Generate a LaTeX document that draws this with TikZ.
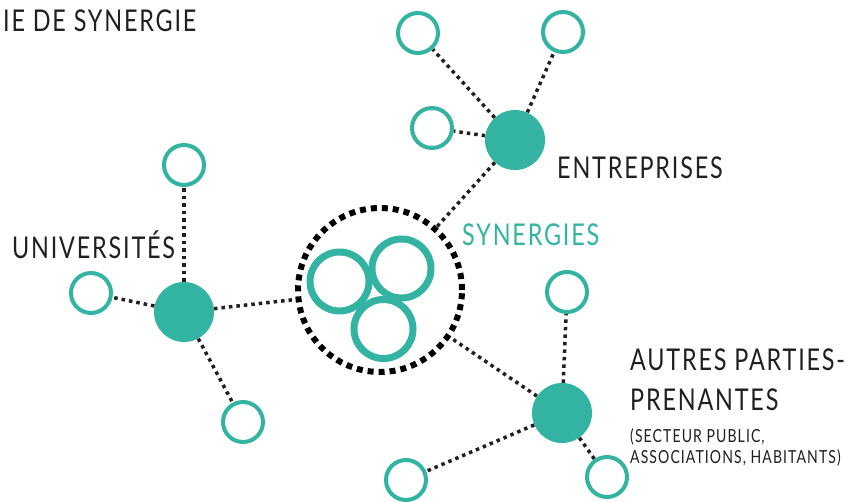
\documentclass[tikz,border=0pt]{standalone}
\usepackage{fontspec}
\setmainfont{Lato}
\newfontfamily\condfont{Lato}[FakeStretch=0.78,LetterSpace=6]
\usetikzlibrary{backgrounds}
\definecolor{teal1}{RGB}{51,179,162}
\definecolor{ink}{RGB}{35,31,32}
\begin{document}
\begin{tikzpicture}[x=1pt,y=-1pt,
 sat/.style={circle,draw=teal1,line width=4pt,fill=white,minimum size=40pt,inner sep=0pt},
 hub/.style={circle,fill=teal1,minimum size=60pt,inner sep=0pt},
 ring/.style={circle,draw=teal1,line width=7pt,minimum size=59pt,inner sep=0pt},
 syncircle/.style={circle,draw=black,line width=6pt,dash pattern=on 6pt off 5pt,minimum size=164pt,inner sep=0pt},
 dotline/.style={draw=ink,line width=3.5pt,dash pattern=on 3.5pt off 4pt},
 lbl/.style={anchor=base west,inner sep=0pt,text=ink,font=\condfont\fontsize{30}{36}\selectfont},
 small/.style={lbl,font=\condfont\fontsize{18}{22}\selectfont}]
\useasboundingbox (0,0) rectangle (848,501);
% central
\node[syncircle] (syn) at (380,290) {};
\node[ring] (r1) at (339.5,281.5) {};
\node[ring] (r2) at (401.5,268.5) {};
\node[ring] (r3) at (383.5,329) {};
% entreprises
\node[hub] (hubE) at (515,140) {};
\node[sat] (e1) at (418,33) {};
\node[sat] (e2) at (563,32) {};
\node[sat] (e3) at (432,128) {};
% universites
\node[hub] (hubU) at (184,312) {};
\node[sat] (u1) at (184,165) {};
\node[sat] (u2) at (91,293) {};
\node[sat] (u3) at (243,422) {};
% autres
\node[hub] (hubA) at (562,413) {};
\node[sat] (a1) at (567,292) {};
\node[sat] (a2) at (406,480) {};
\node[sat] (a3) at (607,477) {};
\begin{pgfonlayer}{background}
\draw[dotline] (hubE) -- (e1);
\draw[dotline] (hubE) -- (e2);
\draw[dotline] (hubE) -- (e3);
\draw[dotline] (hubE) -- (syn);
\draw[dotline] (hubU) -- (u1);
\draw[dotline] (hubU) -- (u2);
\draw[dotline] (hubU) -- (u3);
\draw[dotline] (hubU) -- (syn);
\draw[dotline] (hubA) -- (a1);
\draw[dotline] (hubA) -- (a2);
\draw[dotline] (hubA) -- (a3);
\draw[dotline] (hubA) -- (syn);
\end{pgfonlayer}
% labels
\node[lbl] (title) at (3,31) {IE DE SYNERGIE};
\node[lbl] (lE) at (557,178) {ENTREPRISES};
\node[lbl,text=teal1] (lS) at (462,245) {SYNERGIES};
\node[lbl] (lU) at (12,258) {UNIVERSITÉS};
\node[lbl] (lA1) at (630,370) {AUTRES PARTIES-};
\node[lbl] (lA2) at (630,410) {PRENANTES};
\node[small] (lA3) at (630,442) {(SECTEUR PUBLIC,};
\node[small] (lA4) at (630,463) {ASSOCIATIONS, HABITANTS)};
\end{tikzpicture}
\end{document}
